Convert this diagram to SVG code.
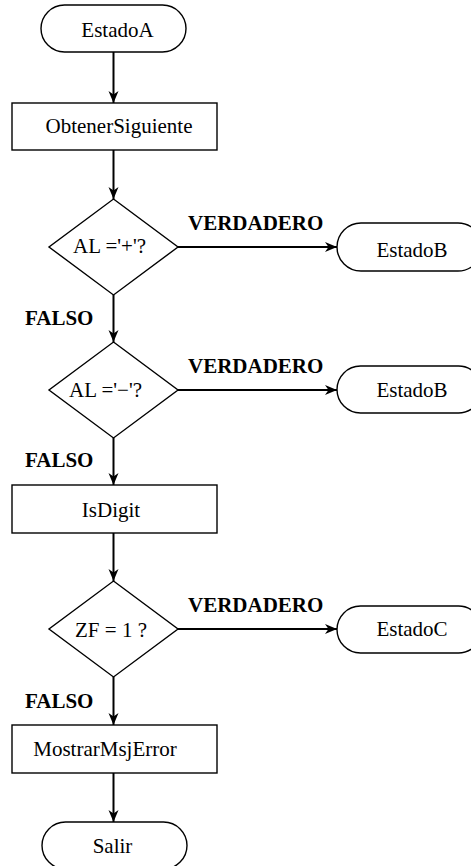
<svg xmlns="http://www.w3.org/2000/svg" width="471" height="866" viewBox="0 0 471 866" font-family="Liberation Serif, serif">
<style>
.sh{fill:#fff;stroke:#000;stroke-width:1.4}
.t{font-size:21px;text-anchor:middle;fill:#000}
.b{font-size:21px;font-weight:bold;fill:#000}
.c{stroke:#000;stroke-width:2;fill:none;marker-end:url(#ah)}
</style>
<defs>
<marker id="ah" markerUnits="userSpaceOnUse" markerWidth="14" markerHeight="12" viewBox="-12 -6 14 12" refX="0" refY="0" orient="auto">
<path d="M0,0 L-12,-5 L-8.5,0 L-12,5 Z" fill="#000"/>
</marker>
</defs>
<rect width="471" height="866" fill="#fff"/>
<g id="connectors">
<line class="c" x1="113.5" y1="52" x2="113.5" y2="103"/>
<line class="c" x1="113.5" y1="150" x2="113.5" y2="199"/>
<line class="c" x1="178" y1="247" x2="337" y2="247"/>
<line class="c" x1="113.5" y1="295" x2="113.5" y2="342"/>
<line class="c" x1="178" y1="390" x2="337" y2="390"/>
<line class="c" x1="113.5" y1="438" x2="113.5" y2="485"/>
<line class="c" x1="113.5" y1="533" x2="113.5" y2="581"/>
<line class="c" x1="178" y1="629" x2="337" y2="629"/>
<line class="c" x1="113.5" y1="677" x2="113.5" y2="725"/>
<line class="c" x1="113.5" y1="773" x2="113.5" y2="822"/>
<text class="b" x="188" y="230">VERDADERO</text>
<text class="b" x="188" y="373">VERDADERO</text>
<text class="b" x="188" y="612">VERDADERO</text>
<text class="b" x="25" y="325">FALSO</text>
<text class="b" x="25" y="467">FALSO</text>
<text class="b" x="25" y="708">FALSO</text>
</g>
<g id="estadoA">
<rect class="sh" x="41" y="5" width="145" height="47" rx="23.5"/>
<text class="t" x="117.5" y="37">EstadoA</text>
</g>
<g id="obtener">
<rect class="sh" x="12" y="103" width="205" height="47"/>
<text class="t" x="119" y="133">ObtenerSiguiente</text>
</g>
<g id="dec1">
<polygon class="sh" points="113.5,199 178,247 113.5,295 49,247"/>
<text class="t" x="109.5" y="253">AL ='+'?</text>
</g>
<g id="estadoB1">
<rect class="sh" x="337" y="223" width="145" height="48" rx="24"/>
<text class="t" x="412" y="257">EstadoB</text>
</g>
<g id="dec2">
<polygon class="sh" points="113.5,342 178,390 113.5,438 49,390"/>
<text class="t" x="105.5" y="397">AL ='−'?</text>
</g>
<g id="estadoB2">
<rect class="sh" x="337" y="366" width="145" height="47" rx="23.5"/>
<text class="t" x="412" y="397">EstadoB</text>
</g>
<g id="isdigit">
<rect class="sh" x="12" y="485" width="205" height="48"/>
<text class="t" x="111" y="517">IsDigit</text>
</g>
<g id="dec3">
<polygon class="sh" points="113.5,581 178,629 113.5,677 49,629"/>
<text class="t" x="111" y="637">ZF = 1 ?</text>
</g>
<g id="estadoC">
<rect class="sh" x="337" y="606" width="145" height="47" rx="23.5"/>
<text class="t" x="412" y="636">EstadoC</text>
</g>
<g id="mostrar">
<rect class="sh" x="12" y="725" width="205" height="48"/>
<text class="t" x="105" y="756">MostrarMsjError</text>
</g>
<g id="salir">
<rect class="sh" x="42" y="822" width="145" height="47" rx="23.5"/>
<text class="t" x="112.5" y="853">Salir</text>
</g>
</svg>
